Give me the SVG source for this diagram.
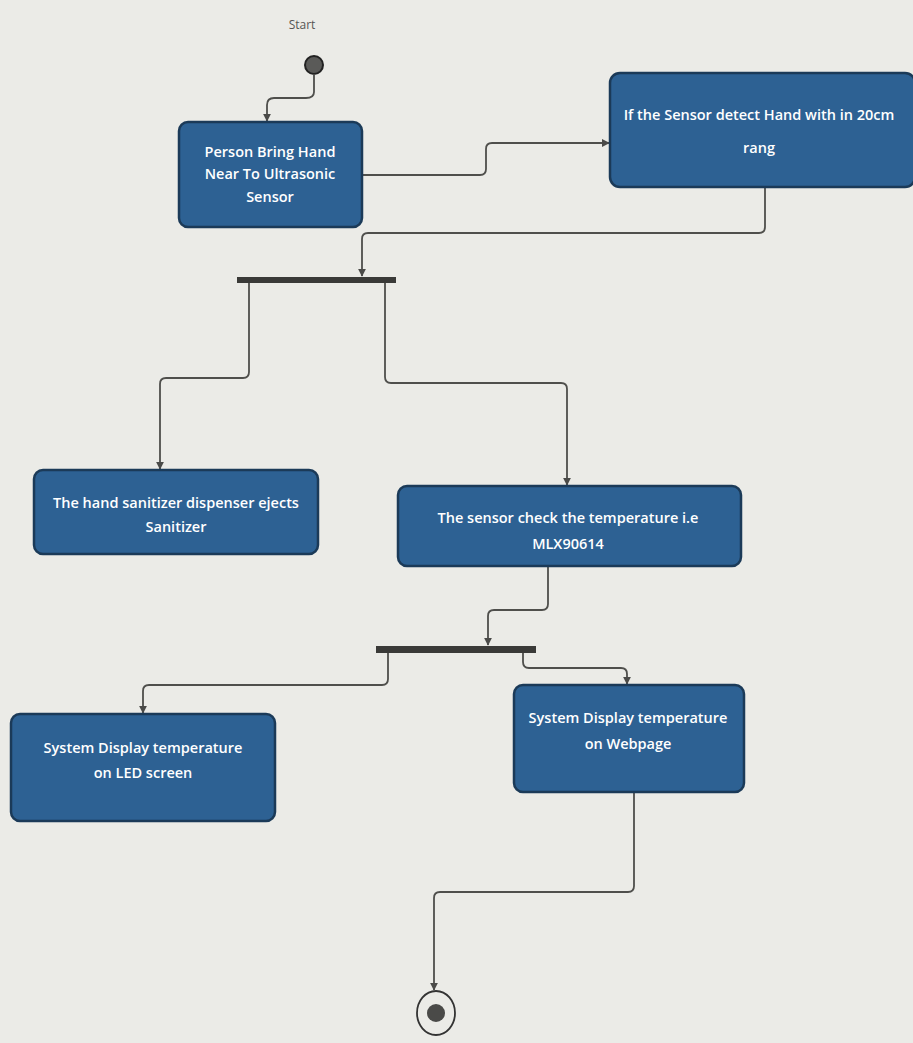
<svg xmlns="http://www.w3.org/2000/svg" width="913" height="1043" viewBox="0 0 913 1043">
<defs>
<marker id="arr" viewBox="0 0 10 10" refX="9" refY="5" markerWidth="8" markerHeight="8" orient="auto" markerUnits="userSpaceOnUse">
<path d="M0,0 L10,5 L0,10 z" fill="#4a4a48"/>
</marker>
<style>
.node rect{fill:#2d6193;stroke:#1b3a58;stroke-width:2.5}
.node text{fill:#ffffff;font-family:"Open Sans","Liberation Sans",sans-serif;font-size:14.5px;font-weight:600;text-anchor:middle}
.conn path{fill:none;stroke:#4f4f4c;stroke-width:1.8;marker-end:url(#arr)}
.bar{fill:#3a3a38}
.lbl{fill:#555;font-family:"Open Sans","Liberation Sans",sans-serif;font-size:12px;text-anchor:middle}
</style>
</defs>
<rect x="0" y="0" width="913" height="1043" fill="#ebebe7"/>

<g id="start">
<text class="lbl" x="302" y="29">Start</text>
<circle cx="314" cy="65" r="9" fill="#5a5a58" stroke="#222" stroke-width="2"/>
</g>

<g id="fork1"><rect class="bar" x="237" y="277" width="159" height="6"/></g>
<g id="fork2"><rect class="bar" x="376" y="646" width="160" height="7"/></g>

<g id="end">
<ellipse cx="436" cy="1013" rx="19" ry="22" fill="none" stroke="#333" stroke-width="1.8"/>
<circle cx="436" cy="1013" r="9" fill="#4a4a48"/>
</g>

<g id="conn" class="conn">
<path d="M314,74 L314,92 Q314,98 306,98 L274,98 Q267,98 267,105 L267,121"/>
<path d="M362,175 L480,175 Q486,175 486,169 L486,149 Q486,143 492,143 L609,143"/>
<path d="M765,187 L765,227 Q765,233 759,233 L368,233 Q362,233 362,239 L362,276"/>
<path d="M249,283 L249,372 Q249,378 243,378 L166,378 Q160,378 160,384 L160,469"/>
<path d="M385,283 L385,377 Q385,383 391,383 L561,383 Q567,383 567,389 L567,485"/>
<path d="M548,566 L548,604 Q548,610 542,610 L494,610 Q488,610 488,616 L488,645"/>
<path d="M388,653 L388,679 Q388,685 382,685 L149,685 Q143,685 143,691 L143,713"/>
<path d="M523,653 L523,662 Q523,668 529,668 L621,668 Q627,668 627,674 L627,684"/>
<path d="M634,792 L634,886 Q634,892 628,892 L440,892 Q434,892 434,898 L434,990"/>
</g>

<g id="n1" class="node">
<rect x="179" y="122" width="183" height="105" rx="9"/>
<text x="270" y="157">Person Bring Hand</text>
<text x="270" y="179">Near To Ultrasonic</text>
<text x="270" y="202">Sensor</text>
</g>

<g id="n2" class="node">
<rect x="610" y="73" width="305" height="114" rx="10"/>
<text x="759" y="120">If the Sensor detect Hand with in 20cm</text>
<text x="759" y="153">rang</text>
</g>

<g id="n3" class="node">
<rect x="34" y="470" width="284" height="84" rx="9"/>
<text x="176" y="508">The hand sanitizer dispenser ejects</text>
<text x="176" y="532">Sanitizer</text>
</g>

<g id="n4" class="node">
<rect x="398" y="486" width="343" height="80" rx="9"/>
<text x="568" y="523">The sensor check the temperature i.e</text>
<text x="568" y="549">MLX90614</text>
</g>

<g id="n5" class="node">
<rect x="11" y="714" width="264" height="107" rx="9"/>
<text x="143" y="753">System Display temperature</text>
<text x="143" y="778">on LED screen</text>
</g>

<g id="n6" class="node">
<rect x="514" y="685" width="230" height="107" rx="9"/>
<text x="628" y="723">System Display temperature</text>
<text x="628" y="749">on Webpage</text>
</g>
</svg>
